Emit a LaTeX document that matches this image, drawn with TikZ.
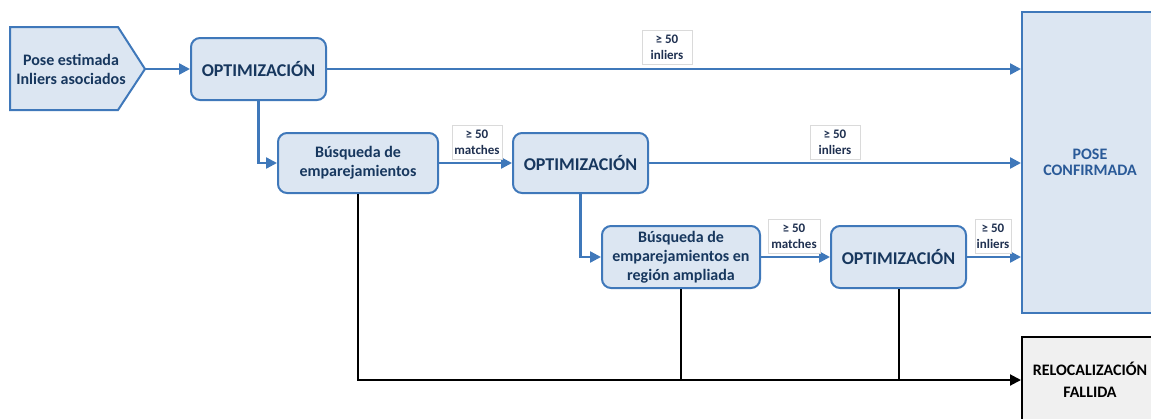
\documentclass[tikz,border=0pt]{standalone}
\usepackage{fontspec}
\setmainfont{Carlito}
\usetikzlibrary{arrows.meta}
\definecolor{boxfill}{HTML}{DCE6F2}
\definecolor{boxline}{HTML}{3F78BA}
\definecolor{txt}{HTML}{17375E}
\definecolor{labtxt}{HTML}{1F3050}
\definecolor{posetxt}{HTML}{2A5A98}
\definecolor{relfill}{HTML}{F0F0F0}
\definecolor{labline}{HTML}{DADADA}
\tikzset{
  procbox/.style={draw=boxline, fill=boxfill, line width=2pt, rounded corners=9pt,
    align=center, text=txt, font=\fontsize{16}{19}\selectfont\bfseries, inner sep=0pt},
  labbox/.style={draw=labline, fill=white, line width=0.6pt, align=center, text=labtxt,
    font=\fontsize{13}{16}\selectfont\bfseries, inner sep=0pt, minimum width=50pt, minimum height=34pt},
  blueflow/.style={draw=boxline, line width=2.4pt, -{Triangle[length=11pt,width=11pt]}},
  blackflow/.style={draw=black, line width=2pt, -{Triangle[length=11pt,width=11pt]}},
  blackline/.style={draw=black, line width=2pt},
}
\begin{document}
\begin{tikzpicture}[x=1pt,y=-1pt]
\useasboundingbox (0,0) rectangle (1151,418);
\clip (0,0) rectangle (1151,418);
% input pentagon
\draw[draw=boxline, fill=boxfill, line width=2pt] (10,27) -- (118,27) -- (145,69) -- (118,110) -- (10,110) -- cycle;
\node[align=center, text=txt, font=\fontsize{16}{19}\selectfont\bfseries] (in) at (71,69) {Pose estimada\\Inliers asociados};
\coordinate (intip) at (145,69);
% boxes
\node[procbox, minimum width=135pt, minimum height=62pt, font=\fontsize{18}{20}\selectfont\bfseries] (opt1) at (258.5,69) {OPTIMIZACIÓN};
\node[procbox, minimum width=160pt, minimum height=60pt] (bus1) at (358,163) {Búsqueda de\\emparejamientos};
\node[procbox, minimum width=135pt, minimum height=60pt, font=\fontsize{18}{20}\selectfont\bfseries] (opt2) at (580.5,163) {OPTIMIZACIÓN};
\node[procbox, minimum width=158pt, minimum height=62pt] (bus2) at (681,257) {Búsqueda de\\emparejamientos en\\región ampliada};
\node[procbox, minimum width=135pt, minimum height=62pt, font=\fontsize{18}{20}\selectfont\bfseries] (opt3) at (898.5,257) {OPTIMIZACIÓN};
\node[draw=boxline, fill=boxfill, line width=2pt, minimum width=136pt, minimum height=301pt,
  align=center, text=posetxt, font=\fontsize{16}{16}\selectfont\bfseries, inner sep=0pt] (pose) at (1090,162.5) {POSE\\CONFIRMADA};
\node[draw=black, fill=relfill, line width=2pt, minimum width=136pt, minimum height=86pt,
  align=center, text=black, font=\fontsize{16}{22}\selectfont\bfseries, inner sep=0pt] (rel) at (1090,380) {RELOCALIZACIÓN\\FALLIDA};
% connectors
\draw[blueflow] (intip) -- (opt1.west);
\draw[blueflow] (opt1.east) -- (opt1.east -| pose.west);
\draw[blueflow] (opt1.south) |- (bus1.west);
\draw[blueflow] (bus1.east) -- (opt2.west);
\draw[blueflow] (opt2.east) -- (opt2.east -| pose.west);
\draw[blueflow] (opt2.south) |- (bus2.west);
\draw[blueflow] (bus2.east) -- (opt3.west);
\draw[blueflow] (opt3.east) -- (opt3.east -| pose.west);
\draw[blackflow] (bus1.south) |- (rel.west);
\draw[blackline] (bus2.south) -- (bus2.south |- rel.west);
\draw[blackline] (opt3.south) -- (opt3.south |- rel.west);
% labels
\node[labbox] (lab1) at (667,47) {≥ 50\\inliers};
\node[labbox] (lab2) at (477,142) {≥ 50\\matches};
\node[labbox] (lab3) at (835,142) {≥ 50\\inliers};
\node[labbox, minimum width=52pt] (lab4) at (794,236) {≥ 50\\matches};
\node[labbox, minimum width=36pt] (lab5) at (993,236) {≥ 50\\inliers};
\end{tikzpicture}
\end{document}
